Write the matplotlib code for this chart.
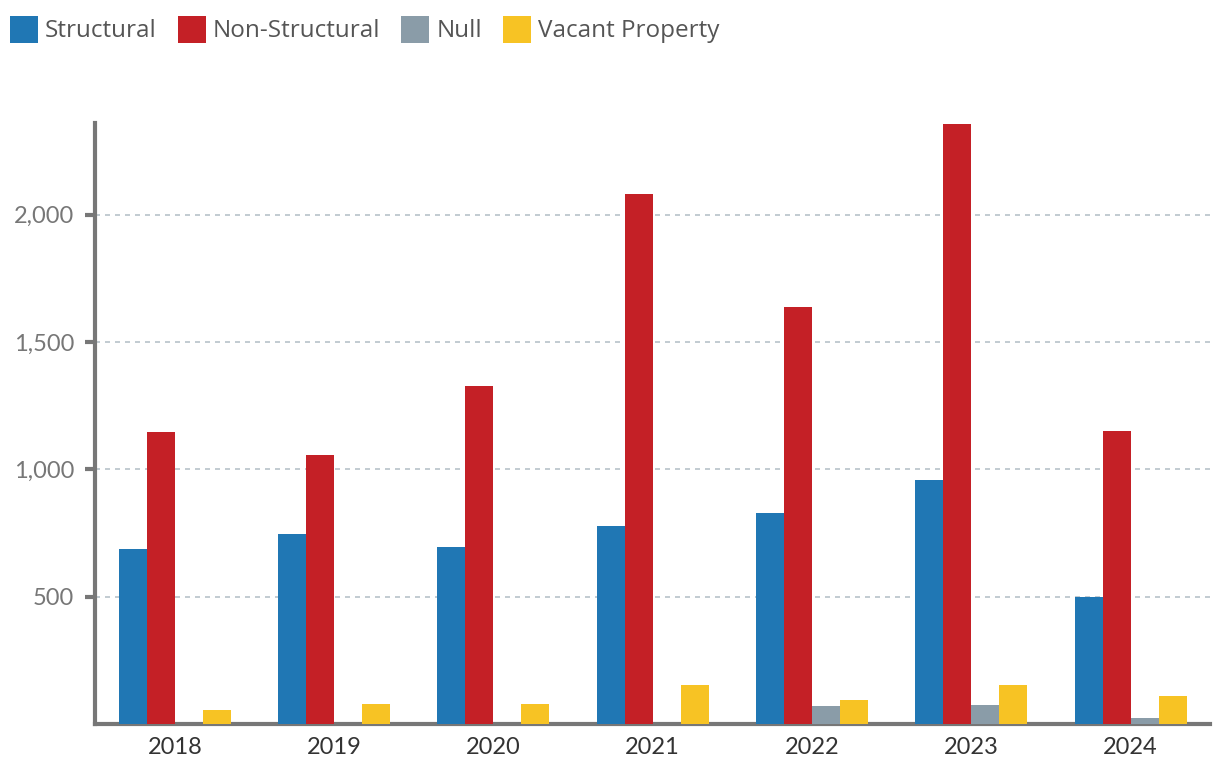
import numpy as np
import matplotlib
matplotlib.use("Agg")
import matplotlib.pyplot as plt
from matplotlib.patches import Rectangle
from matplotlib.ticker import FuncFormatter

# ---------- DATA ----------
years = ["2018", "2019", "2020", "2021", "2022", "2023", "2024"]
structural = [688, 747, 696, 778, 829, 959, 499]
non_structural = [1148, 1057, 1329, 2079, 1639, 2355, 1152]
null_vals = [0, 0, 0, 0, 71, 75, 24]
vacant = [55, 79, 79, 153, 94, 153, 110]

series_names = ["Structural", "Non-Structural", "Null", "Vacant Property"]
series_colors = ["#2077b4", "#c42026", "#8a9ca8", "#f7c324"]

W, H = 1220, 778

# ---------- PLOT ----------
fig = plt.figure(figsize=(W / 100, H / 100), dpi=100)
ax = fig.add_axes([0.078, 0.0694, 0.914, 0.7726])

x = np.arange(len(years))
w = 0.176
all_series = [structural, non_structural, null_vals, vacant]
for i, (vals, c) in enumerate(zip(all_series, series_colors)):
    ax.bar(x + (i - 1.5) * w, vals, width=w, color=c, zorder=3)

ax.set_xlim(-0.5, len(years) - 0.5)
ax.set_ylim(0, 2360)
ax.set_yticks([500, 1000, 1500, 2000])
ax.yaxis.set_major_formatter(FuncFormatter(lambda v, p: f"{int(v):,}"))
ax.set_xticks(x)
ax.set_xticklabels(years)

ax.grid(axis="y", color="#b8c2ca", linestyle=(0, (3, 3)), linewidth=1.2, zorder=0)
for s in ["top", "right"]:
    ax.spines[s].set_visible(False)
for s in ["left", "bottom"]:
    ax.spines[s].set_color("#777777")
    ax.spines[s].set_linewidth(3)
ax.tick_params(axis="y", length=7, width=3, color="#777777", labelcolor="#777777",
               labelsize=17, pad=8)
ax.tick_params(axis="x", length=0, labelcolor="#333333", labelsize=17, pad=9)
for lab in ax.get_yticklabels() + ax.get_xticklabels():
    lab.set_family("Lato")

# ---- legend drawn along the top ----
renderer = fig.canvas.get_renderer()
px = 10
for name, c in zip(series_names, series_colors):
    fig.add_artist(Rectangle((px / W, 1 - 43 / H), 28 / W, 27 / H,
                             transform=fig.transFigure, facecolor=c, edgecolor="none"))
    t = fig.text((px + 35) / W, 1 - 31 / H, name, va="center", ha="left",
                 family="Open Sans", fontsize=17.5, color="#555555")
    bb = t.get_window_extent(renderer)
    px = bb.x1 + 21

fig.savefig("out.png", dpi=100)
